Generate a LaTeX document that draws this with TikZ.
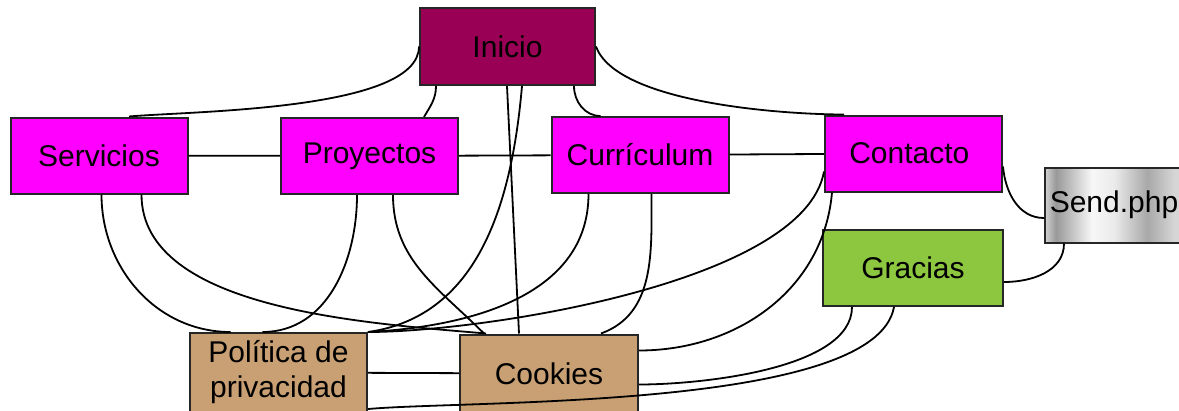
\documentclass[tikz,border=0pt]{standalone}
\usepackage{fontspec}
\setmainfont{Liberation Sans}
\usepackage{tikz}
\usetikzlibrary{positioning}
\usetikzlibrary{calc}
\definecolor{homecolor}{RGB}{153,0,85}
\definecolor{pagecolor}{RGB}{255,0,255}
\definecolor{thankscolor}{RGB}{141,198,63}
\definecolor{legalcolor}{RGB}{200,160,115}
\pgfdeclarehorizontalshading{sendmetal}{100bp}{%
  color(0bp)=(black!18); color(25bp)=(black!18); color(29bp)=(black!40);
  color(42bp)=(black!3); color(50bp)=(black!8); color(62bp)=(black!34);
  color(72bp)=(black!16); color(75bp)=(black!16); color(100bp)=(black!16)}
\tikzset{basic page/.style={draw=black!85,
                            line width=2pt,
                            inner sep=0pt,
                            align=center,
                            font=\fontsize{30}{35}\selectfont}}
\tikzset{menu page/.style={basic page,fill=pagecolor,
                           minimum width=177,minimum height=76}}
\tikzset{edge/.style={draw,
                      line width=1.8pt}}

\begin{document}
\begin{tikzpicture}
      [
      x=1pt,y=1pt,
      legal page/.style={basic page,fill=legalcolor,
      minimum width=177,minimum height=78},
      ]
      \useasboundingbox (0,0) rectangle (1179,-410);

      % pages
      \node [basic page,fill=homecolor,minimum width=175,minimum height=77]
      (Inicio) at (507.5,-46.5) {Inicio};

      \foreach \n/\x/\y/\l in
      {
      Servicios/99/155.5/Servicios,
      Proyectos/369.5/156/Proyectos,
      Curriculum/640/155/{Currículum},
      Contacto/913.5/153.5/Contacto
      }
      {
      \node [menu page] (\n) at (\x,-\y) {\l};
      }

      \node [basic page,shading=sendmetal,minimum width=138,minimum height=75]
      (Send) at (1114,-205) {Send.php};
      \node [basic page,fill=thankscolor,minimum width=180,minimum height=76]
      (Gracias) at (913,-268) {Gracias};
      \node [legal page,minimum height=79] (Politica) at (278.5,-372.5) {Política de\\privacidad};
      \node [legal page,minimum width=178] (Cookies) at (549,-373.5) {Cookies};

      % edges from Inicio
      \draw [edge] (Inicio.west) to [out=-90,in=5,looseness=0.55] ([xshift=30]Servicios.north);
      \draw [edge] ([xshift=17]Inicio.south west) to [out=-90,in=60] ([xshift=144]Proyectos.north west);
      \draw [edge] ([xshift=88]Inicio.south west) -- ([xshift=60]Cookies.north west);
      \draw [edge] ([xshift=103]Inicio.south west) to [out=-95,in=8] (Politica.north east);
      \draw [edge] ([xshift=155]Inicio.south west) to [out=-90,in=180] ([xshift=50]Curriculum.north west);
      \draw [edge] (Inicio.east) to [out=-70,in=180,looseness=0.6] ([xshift=20]Contacto.north west);

      % menu
      \draw [edge] (Servicios) -- (Proyectos);
      \draw [edge] (Proyectos) -- (Curriculum);
      \draw [edge] (Curriculum) -- (Contacto);

      % edges to the legal pages
      \draw [edge] ([xshift=92]Servicios.south west) to [out=-90,in=180] ([xshift=-48]Politica.north);
      \draw [edge] ([xshift=132]Servicios.south west) to [out=-90,in=175,looseness=0.8] ([xshift=27]Cookies.north west);
      \draw [edge] ([xshift=77]Proyectos.south west) to [out=-90,in=0] ([xshift=-16]Politica.north);
      \draw [edge] ([xshift=113]Proyectos.south west) to [out=-90,in=135] ([xshift=25]Cookies.north west);
      \draw [edge] ([xshift=38]Curriculum.south west) to [out=-90,in=3] (Politica.north east);
      \draw [edge] ([xshift=101]Curriculum.south west) to [out=-90,in=20] ([xshift=-38]Cookies.north east);
      \draw [edge] ([yshift=-18]Contacto.west) to [out=-100,in=0,looseness=0.6] (Politica.north east);
      \draw [edge] ([xshift=8]Contacto.south west) to [out=-95,in=0] ([yshift=23]Cookies.east);
      \draw [edge] (Politica) -- (Cookies);

      % form
      \draw [edge] ([yshift=-13]Contacto.east) to [out=-85,in=180] ([yshift=-13]Send.west);
      \draw [edge] ([xshift=20]Send.south west) to [out=-90,in=0] ([yshift=-14]Gracias.east);
      \draw [edge] ([xshift=30]Gracias.south west) to [out=-90,in=0,looseness=0.7] ([yshift=-11]Cookies.east);
      \draw [edge] ([xshift=72]Gracias.south west) to [out=-100,in=5,looseness=0.5] ([yshift=4]Politica.south east);

    \end{tikzpicture}
\end{document}
